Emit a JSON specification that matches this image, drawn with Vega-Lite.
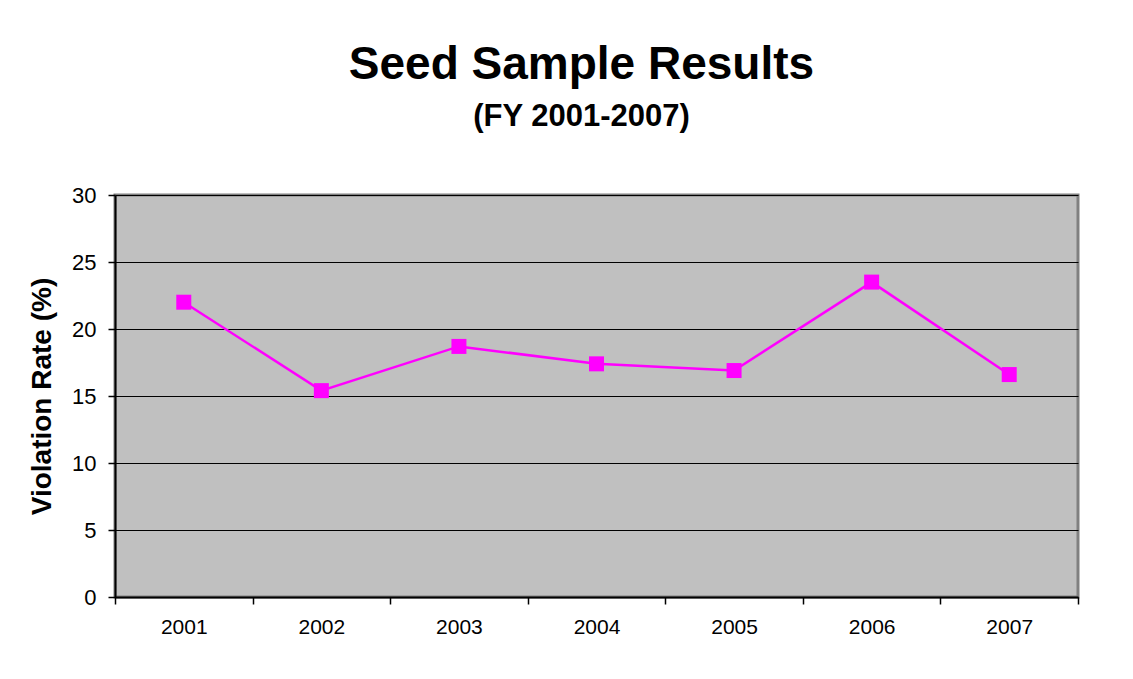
{
  "$schema": "https://vega.github.io/schema/vega-lite/v6.json",
  "autosize": {"type": "none"},
  "width": 963,
  "height": 402,
  "padding": {"left": 115, "top": 195, "right": 55, "bottom": 82},
  "background": "white",
  "title": {
    "text": "Seed Sample Results",
    "subtitle": "(FY 2001-2007)",
    "font": "Liberation Sans",
    "fontSize": 46,
    "fontWeight": "bold",
    "color": "black",
    "subtitleFont": "Liberation Sans",
    "subtitleFontSize": 31,
    "subtitleFontWeight": "bold",
    "subtitleColor": "black",
    "subtitlePadding": 13,
    "anchor": "middle",
    "frame": "group",
    "dx": -15,
    "offset": 51
  },
  "data": {
    "values": [
      {"year": "2001", "rate": 22.0},
      {"year": "2002", "rate": 15.4},
      {"year": "2003", "rate": 18.7},
      {"year": "2004", "rate": 17.4},
      {"year": "2005", "rate": 16.9},
      {"year": "2006", "rate": 23.5},
      {"year": "2007", "rate": 16.6}
    ]
  },
  "encoding": {
    "x": {
      "field": "year",
      "type": "ordinal",
      "scale": {"type": "band", "paddingInner": 0, "paddingOuter": 0},
      "axis": {
        "title": null,
        "labelAngle": 0,
        "labelFont": "Liberation Sans",
        "labelFontSize": 21,
        "labelColor": "black",
        "labelPadding": 12,
        "domainColor": "black",
        "domainWidth": 2,
        "tickColor": "black",
        "tickWidth": 1.5,
        "tickSize": 7,
        "tickBand": "extent",
        "grid": false
      }
    },
    "y": {
      "field": "rate",
      "type": "quantitative",
      "scale": {"domain": [0, 30], "nice": false, "zero": true},
      "axis": {
        "title": "Violation Rate (%)",
        "titleFont": "Liberation Sans",
        "titleFontSize": 28,
        "titleFontWeight": "bold",
        "titleColor": "black",
        "titlePadding": 15,
        "values": [0, 5, 10, 15, 20, 25, 30],
        "labelFont": "Liberation Sans",
        "labelFontSize": 22,
        "labelColor": "black",
        "labelPadding": 12,
        "domainColor": "black",
        "domainWidth": 2,
        "tickColor": "black",
        "tickWidth": 1.5,
        "tickSize": 7,
        "grid": true,
        "gridColor": "black",
        "gridWidth": 1,
        "gridOpacity": 1
      }
    }
  },
  "layer": [
    {"mark": {"type": "line", "color": "#FF00FF", "strokeWidth": 2.5}},
    {"mark": {"type": "point", "shape": "square", "filled": true, "color": "#FF00FF", "size": 225, "opacity": 1}}
  ],
  "config": {
    "view": {"fill": "#C0C0C0", "stroke": "#808080", "strokeWidth": 3}
  }
}
